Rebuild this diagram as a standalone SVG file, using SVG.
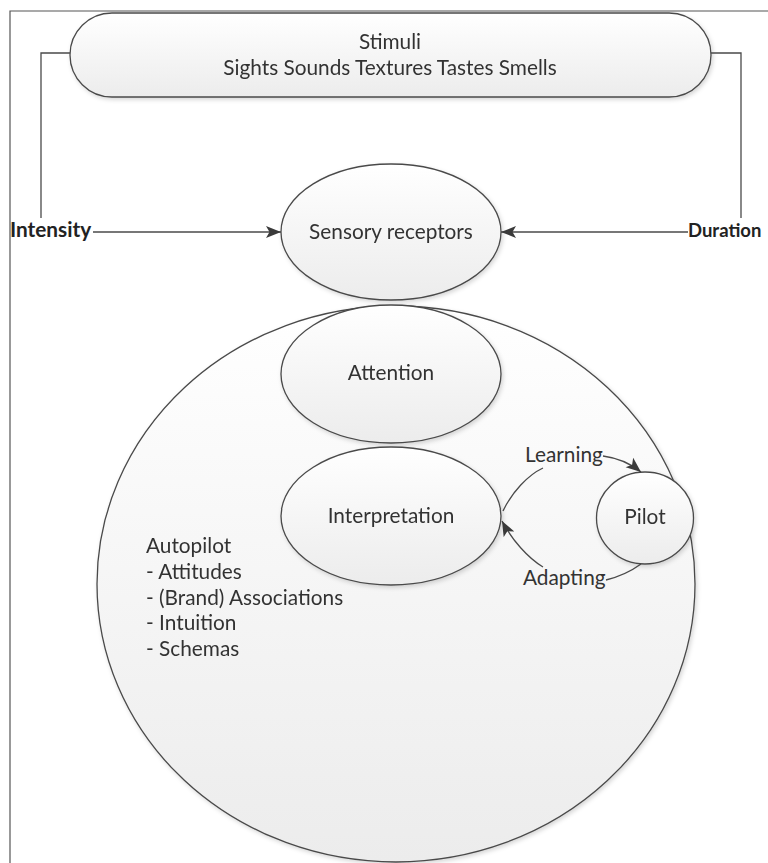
<svg xmlns="http://www.w3.org/2000/svg" width="768" height="863" viewBox="0 0 768 863">
<style>
.shape{stroke:#4a4a4a;stroke-width:1.3;fill:url(#g)}
.lbl{font-family:Lato,"Liberation Sans",sans-serif;font-size:20.8px;fill:#333}
.b{font-weight:bold;fill:#222}
.c{text-anchor:middle}
.conn{fill:none;stroke:#4a4a4a;stroke-width:1.3}
</style>
<defs>
<linearGradient id="g" x1="0" y1="0" x2="0" y2="1">
<stop offset="0" stop-color="#ffffff"/>
<stop offset="1" stop-color="#ececec"/>
</linearGradient>
<filter id="sh" x="-10%" y="-10%" width="130%" height="130%">
<feDropShadow dx="1.5" dy="2" stdDeviation="2" flood-color="#000" flood-opacity="0.16"/>
</filter>
<marker id="ah" markerWidth="16" markerHeight="14" refX="15" refY="6.5" orient="auto" markerUnits="userSpaceOnUse">
<path d="M0,0.5 L15,6.5 L0,12.5 L3.5,6.5 z" fill="#3a3a3a"/>
</marker>
</defs>
<rect width="768" height="863" fill="#fff"/>
<path d="M10,863 L10,11 L768,11" fill="none" stroke="#555" stroke-width="1.2"/>

<g id="stimuli" filter="url(#sh)">
<rect class="shape" x="70" y="13" width="641" height="84" rx="42" ry="42"/>
<text class="lbl c" x="390" y="49">Stimuli</text>
<text class="lbl c" x="390" y="75">Sights Sounds Textures Tastes Smells</text>
</g>

<g id="autopilot" filter="url(#sh)">
<ellipse class="shape" cx="396" cy="584" rx="299" ry="278"/>
<text class="lbl" x="146" y="553">Autopilot</text>
<text class="lbl" x="146" y="579">- Attitudes</text>
<text class="lbl" x="146" y="605">- (Brand) Associations</text>
<text class="lbl" x="146" y="630">- Intuition</text>
<text class="lbl" x="146" y="656">- Schemas</text>
</g>

<g id="sensory" filter="url(#sh)">
<ellipse class="shape" cx="391" cy="232" rx="110" ry="68"/>
<text class="lbl c" x="391" y="239">Sensory receptors</text>
</g>

<g id="attention" filter="url(#sh)">
<ellipse class="shape" cx="391" cy="374" rx="110" ry="69"/>
<text class="lbl c" x="391" y="380">Attention</text>
</g>

<g id="interpretation" filter="url(#sh)">
<ellipse class="shape" cx="391" cy="516" rx="110" ry="69"/>
<text class="lbl c" x="391" y="523">Interpretation</text>
</g>

<g id="pilot" filter="url(#sh)">
<ellipse class="shape" cx="645" cy="518" rx="48.5" ry="46"/>
<text class="lbl c" x="645" y="524">Pilot</text>
</g>

<g id="intensity">
<text class="lbl b" x="10" y="237">Intensity</text>
</g>
<g id="duration">
<text class="lbl b" x="688" y="237" style="font-size:18.5px">Duration</text>
</g>

<g id="connectors">
<path class="conn" d="M70,53 L41,53 L41,218"/>
<path class="conn" d="M711,53 L741,53 L741,218"/>
<path class="conn" d="M93,232 L281,232" marker-end="url(#ah)"/>
<path class="conn" d="M688,232 L501,232" marker-end="url(#ah)"/>
<path class="conn" d="M503,511 C512,492 528,475 543,468"/>
<path class="conn" d="M603,456 C618,458 630,463 641,472" marker-end="url(#ah)"/>
<path class="conn" d="M641,564 C630,572 618,577 606,580"/>
<path class="conn" d="M543,567 C528,558 512,540 502,521" marker-end="url(#ah)"/>
<text class="lbl" x="525" y="462">Learning</text>
<text class="lbl" x="523" y="585">Adapting</text>
</g>
</svg>
